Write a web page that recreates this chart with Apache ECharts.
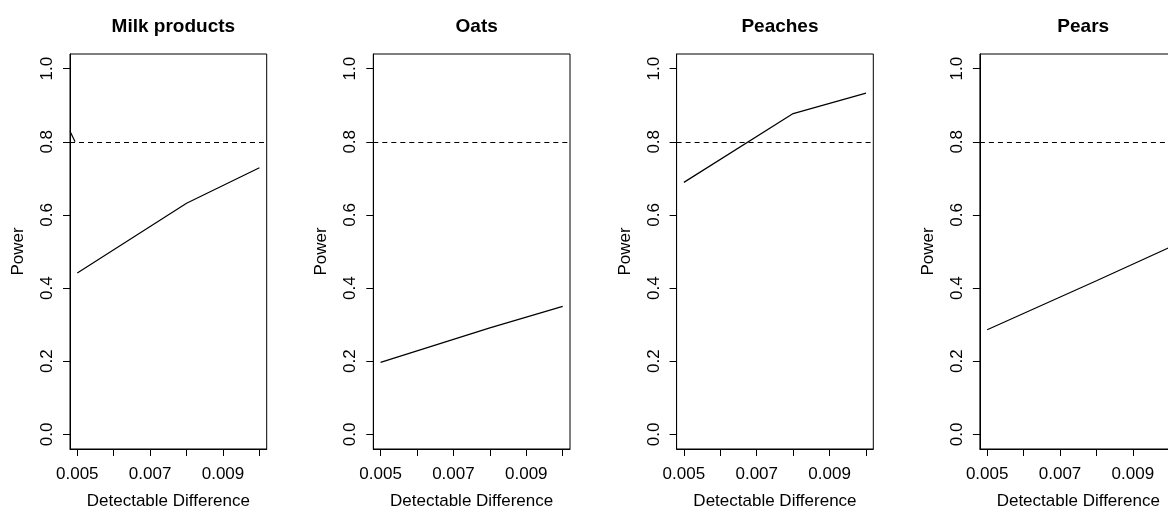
<!DOCTYPE html>
<html>
<head>
<meta charset="utf-8">
<script src="https://cdn.jsdelivr.net/npm/echarts@6/dist/echarts.min.js"></script>
<style>
  html, body { margin: 0; padding: 0; background: #fff; }
  #chart-container { width: 1168px; height: 511px; }
</style>
</head>
<body>
<div id="chart-container"></div>
<script>
// values
const panelNames = ['Milk products', 'Oats', 'Peaches', 'Pears']
const diffs = [0.005, 0.008, 0.010]
const milk = [0.441, 0.632, 0.729]
const oats = [0.197, 0.291, 0.350]
const peaches = [0.689, 0.877, 0.933]
const pears = [0.286, 0.420, 0.511]
const milkStub = [[0.0048, 0.829], [0.00494, 0.80]]   // short clipped piece at left edge
const target = 0.8
const xTicks = [0.005, 0.006, 0.007, 0.008, 0.009, 0.010]
const xTickLabels = [0.005, 0.007, 0.009]
const yTicks = [0, 0.2, 0.4, 0.6, 0.8, 1.0]

const powers = [milk, oats, peaches, pears]
const font = '"Liberation Sans", Arial, sans-serif'

const myChart = echarts.init(document.getElementById('chart-container'))

const step = 303.3
const boxLeft = 70, boxTop = 54, boxW = 196.7, boxH = 395

const grid = [], xAxis = [], yAxis = [], title = [], series = []

panelNames.forEach((name, i) => {
    const left = boxLeft + i * step
    grid.push({
        left: left, top: boxTop, width: boxW, height: boxH,
        outerBoundsMode: 'none', containLabel: false,
        show: true, borderColor: '#000', borderWidth: 1, backgroundColor: 'transparent'
    })
    title.push({
        text: name,
        left: left + boxW / 2,
        top: 12,
        textAlign: 'center',
        textStyle: { fontFamily: font, fontSize: 19, fontWeight: 'bold', color: '#000' }
    })
    xAxis.push({
        type: 'value', gridIndex: i,
        min: 0.0048, max: 0.0102,
        name: 'Detectable Difference',
        nameLocation: 'middle', nameGap: 44,
        nameTextStyle: { fontFamily: font, fontSize: 17, color: '#000' },
        splitLine: { show: false },
        axisLine: { show: true, onZero: false, lineStyle: { color: '#000', width: 1 } },
        axisTick: { show: true, inside: false, length: 7, customValues: xTicks, lineStyle: { color: '#000' } },
        axisLabel: {
            show: true, margin: 17, customValues: xTickLabels,
            fontFamily: font, fontSize: 17, color: '#000',
            formatter: v => v.toFixed(3)
        }
    })
    yAxis.push({
        type: 'value', gridIndex: i,
        min: -0.04, max: 1.04,
        name: 'Power',
        nameLocation: 'middle', nameGap: 43, nameRotate: 90,
        nameTextStyle: { fontFamily: font, fontSize: 17, color: '#000' },
        splitLine: { show: false },
        axisLine: { show: true, onZero: false, lineStyle: { color: '#000', width: 1 } },
        axisTick: { show: true, inside: false, length: 7, customValues: yTicks, lineStyle: { color: '#000' } },
        axisLabel: {
            show: true, margin: 14, rotate: 90, customValues: yTicks,
            fontFamily: font, fontSize: 17, color: '#000',
            formatter: v => v.toFixed(1)
        }
    })
    series.push({
        type: 'line', xAxisIndex: i, yAxisIndex: i,
        data: diffs.map((d, k) => [d, powers[i][k]]),
        showSymbol: false,
        lineStyle: { color: '#000', width: 1.2 },
        markLine: {
            silent: true, symbol: 'none', label: { show: false },
            lineStyle: { color: '#000', width: 1.2, type: [5, 4] },
            data: [{ yAxis: target }]
        }
    })
})

series.push({
    type: 'line', xAxisIndex: 0, yAxisIndex: 0,
    data: milkStub, showSymbol: false,
    lineStyle: { color: '#000', width: 1.2 }
})

const option = {
    backgroundColor: '#fff',
    animation: false,
    title: title,
    grid: grid,
    xAxis: xAxis,
    yAxis: yAxis,
    series: series
}

option && myChart.setOption(option)
</script>
</body>
</html>
